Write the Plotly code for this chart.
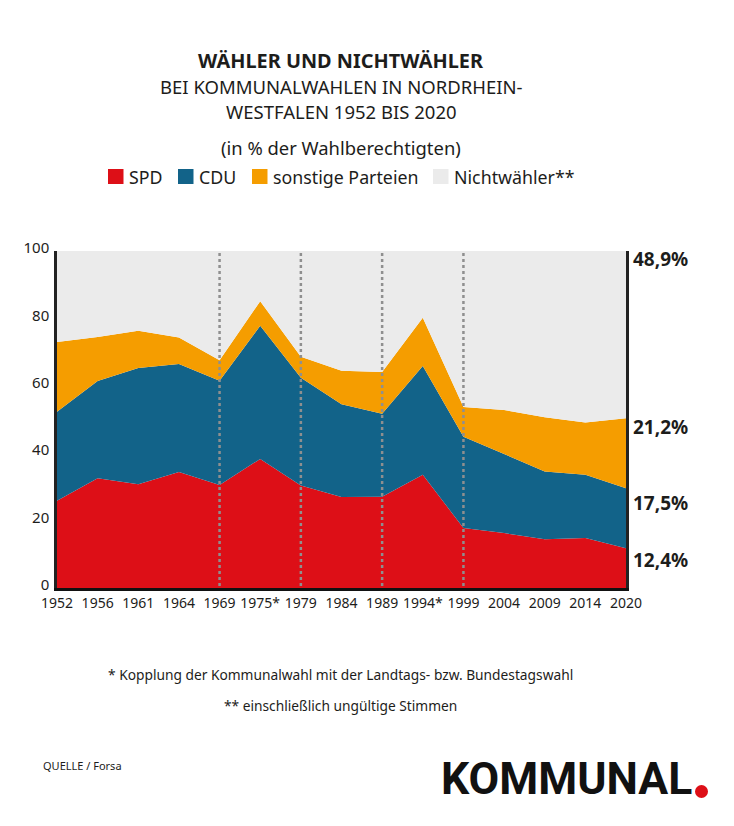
import plotly.graph_objects as go

years = ["1952","1956","1961","1964","1969","1975*","1979","1984","1989","1994*","1999","2004","2009","2014","2020"]
spd = [25.9,32.6,30.8,34.4,30.6,38.3,30.4,27.0,27.1,33.6,17.8,16.3,14.5,14.8,11.8]
cdu = [26.4,28.8,34.5,32.1,30.9,39.5,32.0,27.5,24.6,32.3,27.1,23.5,20.1,18.8,17.8]
sonstige = [20.7,13.1,11.0,7.8,6.1,7.3,6.2,10.0,12.4,14.3,8.8,13.0,16.1,15.5,20.8]
nicht = [27.0,25.5,23.7,25.7,32.4,14.9,31.4,35.5,35.9,19.8,46.3,47.2,49.3,50.9,49.6]
series_names = ["SPD","CDU","sonstige Parteien","Nichtwähler**"]
series_colors = ["#dd0f17","#126389","#f59d00","#ebebeb"]
dotted_years = ["1969","1979","1989","1999"]
end_labels = ["48,9%","21,2%","17,5%","12,4%"]

# the page has an 8 px body margin, so the figure is 8 px smaller and everything is offset
OFF = 8
W, H = 734 - OFF, 826 - OFF
L, R, T, B = 57 - OFF, 626 - OFF, 251 - OFF, 588 - OFF
FONT = "Noto Sans"
INK = "#1d1d1b"

def px(x): return (x - OFF - L) / (R - L)
def py(y): return (B - (y - OFF)) / (B - T)

fig = go.Figure()
for name, vals, col in zip(series_names, [spd, cdu, sonstige, nicht], series_colors):
    fig.add_trace(go.Scatter(x=years, y=vals, name=name, mode="lines", stackgroup="one",
                             line=dict(width=0, color=col), fillcolor=col, showlegend=False))

shapes = []
for yr in dotted_years:
    pos = years.index(yr)
    shapes.append(dict(type="line", xref="x", yref="y", x0=pos, x1=pos, y0=-1.2, y1=100,
                       line=dict(color="#8f8f8f", width=2.5, dash="dot"), layer="above"))

ann = []
def text(x, y, s, size, anchor="center", color=INK, family=FONT):
    ann.append(dict(xref="paper", yref="paper", x=px(x), y=py(y), text=s, showarrow=False,
                    xanchor=anchor, yanchor="middle", font=dict(family=family, size=size, color=color),
                    borderpad=0, borderwidth=0))

text(341, 60, "<b>WÄHLER UND NICHTWÄHLER</b>", 19.9)
text(341, 86, "BEI KOMMUNALWAHLEN IN NORDRHEIN-", 18.5)
text(341, 111, "WESTFALEN 1952 BIS 2020", 18.5)
text(341, 147, "(in % der Wahlberechtigten)", 18.4)

swatch_x = [108, 178, 252, 433]
for sx, name, col in zip(swatch_x, series_names, series_colors):
    shapes.append(dict(type="rect", xref="paper", yref="paper", x0=px(sx), x1=px(sx + 15.5),
                       y0=py(184), y1=py(169), fillcolor=col, line=dict(width=0)))
    text(sx + 20.5, 177, name, 17.8, anchor="left")

for y, s in zip([259, 427, 503, 560], end_labels):
    text(633, y, f"<b>{s}</b>", 19, anchor="left")

text(108, 674, "* Kopplung der Kommunalwahl mit der Landtags- bzw. Bundestagswahl", 13.75, anchor="left")
text(224, 705, "** einschließlich ungültige Stimmen", 13.75, anchor="left")
text(43, 765, "QUELLE / Forsa", 11, anchor="left")
text(441, 779, "<b>KOMMUNAL</b>", 44.5, anchor="left", color="#111111", family="Roboto")
shapes.append(dict(type="circle", xref="paper", yref="paper", x0=px(695), x1=px(708),
                   y0=py(798), y1=py(785), fillcolor=series_colors[0], line=dict(width=0)))

fig.update_layout(
    width=W, height=H, autosize=False,
    margin=dict(l=L, r=W - R, t=T, b=H - B, pad=0),
    paper_bgcolor="white", plot_bgcolor="white",
    font=dict(family=FONT, color=INK),
    shapes=shapes, annotations=ann,
    xaxis=dict(type="category", categoryorder="array", categoryarray=years, range=[0, 14],
               showgrid=False, zeroline=False, showline=True, linecolor="#111111", linewidth=2.5,
               ticks="", tickfont=dict(size=14), tickangle=0),
    yaxis=dict(range=[0, 100], tickvals=[0, 20, 40, 60, 80, 100], showgrid=False, zeroline=False,
               showline=True, mirror=True, linecolor="#222222", linewidth=2.5, ticks="",
               tickfont=dict(size=15), ticklabelstandoff=2, ticklabelshift=-3),
)
fig.write_html("out.html")
